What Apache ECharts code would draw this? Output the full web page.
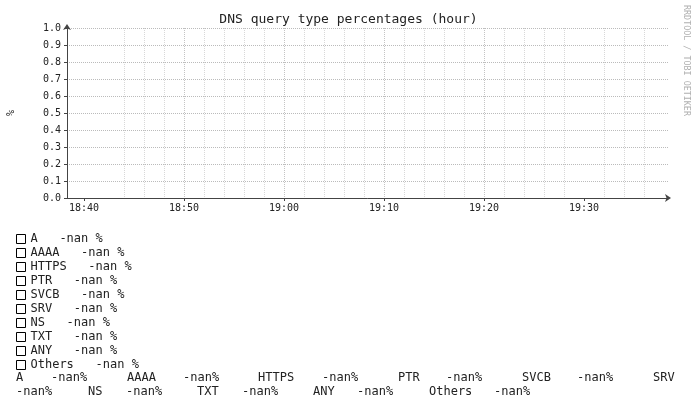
<!DOCTYPE html>
<html><head><meta charset="utf-8">
<script src="https://cdn.jsdelivr.net/npm/echarts@6/dist/echarts.min.js"></script>
<style>html,body{margin:0;padding:0;background:#fff}#c{width:697px;height:406px}</style>
</head><body><div id="c"></div>
<script>
// ---- data ----
const queryTypes = ['A', 'AAAA', 'HTTPS', 'PTR', 'SVCB', 'SRV', 'NS', 'TXT', 'ANY', 'Others'];
// all series are NaN over the window: nothing is drawn
const valuesA = [];
const valuesAAAA = [];
const valuesHTTPS = [];
const valuesPTR = [];
const valuesSVCB = [];
const valuesSRV = [];
const valuesNS = [];
const valuesTXT = [];
const valuesANY = [];
const valuesOthers = [];
const legendValues = ['-nan', '-nan', '-nan', '-nan', '-nan', '-nan', '-nan', '-nan', '-nan', '-nan'];
const summaryValues = ['-nan%', '-nan%', '-nan%', '-nan%', '-nan%', '-nan%', '-nan%', '-nan%', '-nan%', '-nan%'];
// x axis in minutes after 18:00
const windowStart = 38.3;
const windowEnd = 98.4;
const majorTicks = [40, 50, 60, 70, 80, 90];
const majorTickLabels = ['18:40', '18:50', '19:00', '19:10', '19:20', '19:30'];
const minorTicks = [42, 44, 46, 48, 52, 54, 56, 58, 62, 64, 66, 68, 72, 74, 76, 78, 82, 84, 86, 88, 92, 94, 96, 98];
const yMin = 0, yMax = 1, yStep = 0.1;

// ---- layout (positions only) ----
const FONT = 'DejaVu Sans Mono';
const summaryLayout = [
  // [type index, row, name x, value x]
  [0, 0, 16, 51], [1, 0, 127, 183], [2, 0, 258, 322], [3, 0, 398, 446], [4, 0, 522, 577],
  [5, 0, 653, null], [5, 1, null, 16],
  [6, 1, 88, 126], [7, 1, 197, 242], [8, 1, 313, 357], [9, 1, 429, 494]
];
const rowY = [378, 392];

const seriesData = [valuesA, valuesAAAA, valuesHTTPS, valuesPTR, valuesSVCB, valuesSRV, valuesNS, valuesTXT, valuesANY, valuesOthers];

const graphics = [];
summaryLayout.forEach(([i, r, nx, vx]) => {
  if (nx !== null) graphics.push({type: 'text', x: nx, y: rowY[r], style: {text: queryTypes[i], fill: '#222', font: '12px ' + FONT, textVerticalAlign: 'middle'}});
  if (vx !== null) graphics.push({type: 'text', x: vx, y: rowY[r], style: {text: summaryValues[i], fill: '#222', font: '12px ' + FONT, textVerticalAlign: 'middle'}});
});
graphics.push({type: 'text', x: 686, y: 5, rotation: -Math.PI / 2,
  style: {text: 'RRDTOOL / TOBI OETIKER', fill: '#b0b0b0', font: '8.4px ' + FONT, textAlign: 'left', textVerticalAlign: 'middle'}});

const nameToIdx = {};
queryTypes.forEach((n, i) => nameToIdx[n] = i);

const chart = echarts.init(document.getElementById('c'), null, {renderer: 'canvas'});
chart.setOption({
  animation: false,
  backgroundColor: '#fff',
  title: {
    text: 'DNS query type percentages (hour)', left: 'center', top: 13, padding: 0,
    textStyle: {fontFamily: FONT, fontSize: 13, fontWeight: 'normal', color: '#222'}
  },
  grid: {left: 67, right: 29, top: 28, bottom: 208, containLabel: false, outerBoundsMode: 'none'},
  legend: {
    orient: 'vertical', left: 16, top: 232, padding: 0, itemGap: 0,
    itemWidth: 9, itemHeight: 9, icon: 'rect', selectedMode: false,
    itemStyle: {color: '#fff', borderColor: '#000', borderWidth: 1},
    textStyle: {fontFamily: FONT, fontSize: 12, color: '#222', lineHeight: 14},
    data: queryTypes,
    formatter: n => n + '   ' + legendValues[nameToIdx[n]] + ' %'
  },
  xAxis: [{
    type: 'value', min: windowStart, max: windowEnd,
    axisLine: {show: true, lineStyle: {color: '#444', width: 1}, symbol: ['none', 'arrow'], symbolSize: [6, 6], symbolOffset: [0, 3]},
    axisTick: {show: true, length: 3, inside: false, customValues: majorTicks, lineStyle: {color: '#444'}},
    axisLabel: {customValues: majorTicks, margin: 5, color: '#222', fontFamily: FONT, fontSize: 10,
      formatter: v => majorTickLabels[majorTicks.indexOf(Math.round(v))] || ''},
    splitLine: {show: true, showMinLine: false, showMaxLine: false, lineStyle: {color: '#c4c4c4', type: 'dotted', width: 1}}
  }, {
    type: 'value', min: windowStart, max: windowEnd, position: 'bottom',
    axisLine: {show: false}, axisLabel: {show: false},
    axisTick: {show: false, customValues: minorTicks},
    splitLine: {show: true, showMinLine: false, showMaxLine: false, lineStyle: {color: '#d8d8d8', type: 'dotted', width: 1}}
  }],
  yAxis: {
    type: 'value', min: yMin, max: yMax, interval: yStep,
    name: '%', nameLocation: 'middle', nameRotate: 90, nameGap: 51,
    nameTextStyle: {fontFamily: FONT, fontSize: 10, color: '#222'},
    axisLine: {show: true, lineStyle: {color: '#444', width: 1}, symbol: ['none', 'arrow'], symbolSize: [6, 6], symbolOffset: [0, 4]},
    axisTick: {show: true, length: 3, lineStyle: {color: '#444'}},
    axisLabel: {margin: 6, color: '#222', fontFamily: FONT, fontSize: 10, formatter: v => v.toFixed(1)},
    splitLine: {show: true, lineStyle: {color: '#bbb', type: 'dotted', width: 1}}
  },
  series: queryTypes.map((n, i) => ({
    name: n, type: 'line', showSymbol: false, data: seriesData[i]
  })),
  graphic: graphics
});
</script>
</body></html>
